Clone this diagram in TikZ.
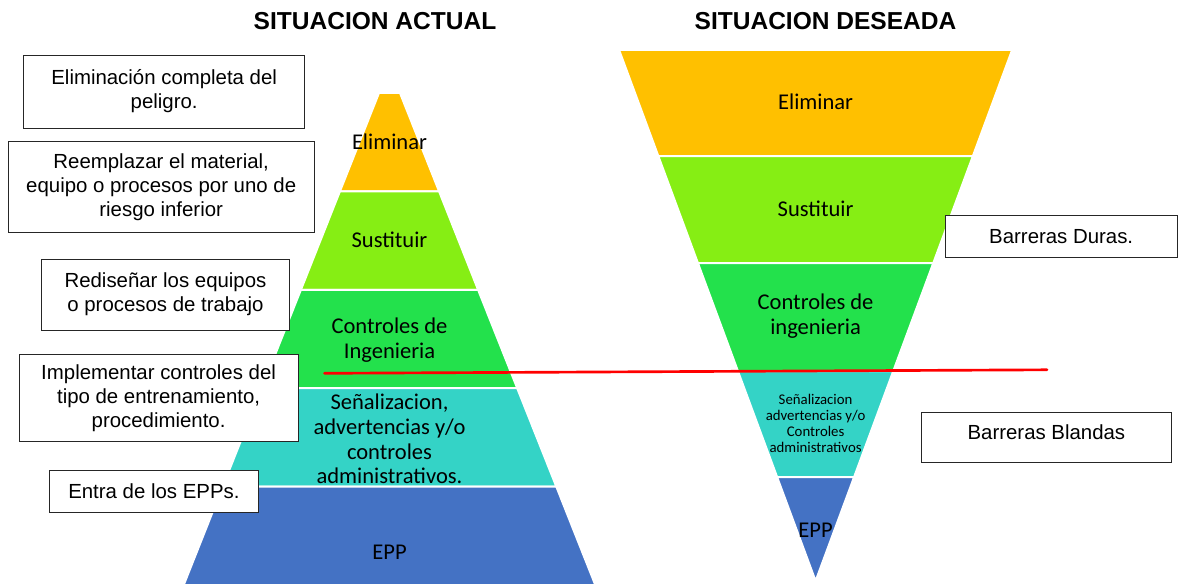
\documentclass[tikz,border=0pt]{standalone}
\usepackage{tkz-euclide}
\usepackage{fontspec}
\setmainfont{Liberation Sans}
\newfontfamily\calibri{Carlito}
\definecolor{elim}{HTML}{FFC000}
\definecolor{sust}{HTML}{86EE14}
\definecolor{ing}{HTML}{23E14C}
\definecolor{adm}{HTML}{34D3C6}
\definecolor{epp}{HTML}{4472C4}
\tikzset{
  nota/.style={draw=black!85,fill=white,line width=0.75pt,inner sep=0pt,align=center,
    font=\fontsize{15.3}{18}\selectfont},
  nivel/.style={align=center,inner sep=0pt,font=\calibri\fontsize{16.9}{18.4}\selectfont},
  nivelchico/.style={align=center,inner sep=0pt,font=\calibri\fontsize{11.1}{12}\selectfont},
  titulo/.style={inner sep=0pt,font=\fontsize{18.4}{22}\selectfont\bfseries},
  capa/.style={draw=white,line width=1.5pt}
}
\begin{document}
\begin{tikzpicture}[x=0.75pt,y=-0.75pt]
    \useasboundingbox (0,0) rectangle (1178,585);
    \tkzDefPoints{379/93/L0,400/93/M0,339.9/191.4/L1,439.1/191.4/M1,
      300.9/289.8/L2,478.1/289.8/M2,261.8/388.2/L3,517.2/388.2/M3,
      222.7/486.6/L4,556.3/486.6/M4,183.7/585/L5,595.3/585/M5}
    \tkzDefPoints{619.1/50/F0,1012.1/50/G0,658.3/156/F1,972.9/156/G1,
      697.9/263/F2,933.3/263/G2,737.9/371/F3,893.3/371/G3,
      777.1/477/F4,854.1/477/G4,815.6/581/V}
    \tkzDefPoints{324.5/373.3/R1,1047/369.8/R2}
    \tkzDrawPolygon[capa,fill=elim](L0,M0,M1,L1)
    \tkzDrawPolygon[capa,fill=sust](L1,M1,M2,L2)
    \tkzDrawPolygon[capa,fill=ing](L2,M2,M3,L3)
    \tkzDrawPolygon[capa,fill=adm](L3,M3,M4,L4)
    \tkzDrawPolygon[capa,fill=epp](L4,M4,M5,L5)
    \tkzDrawPolygon[capa,fill=elim](F0,G0,G1,F1)
    \tkzDrawPolygon[capa,fill=sust](F1,G1,G2,F2)
    \tkzDrawPolygon[capa,fill=ing](F2,G2,G3,F3)
    \tkzDrawPolygon[capa,fill=adm](F3,G3,G4,F4)
    \tkzDrawPolygon[capa,fill=epp](F4,G4,V)
    \node[titulo] (tA) at (375,21) {SITUACION ACTUAL};
    \node[titulo] (tD) at (825.5,21) {SITUACION DESEADA};
    \node[nivel] (aE) at (389.5,142) {Eliminar};
    \node[nivel] (aS) at (389.5,240) {Sustituir};
    \node[nivel] (aC) at (389.5,340) {Controles de\\Ingenieria};
    \node[nivel] (aA) at (389.5,439) {Señalizacion,\\advertencias y/o\\controles\\administrativos.};
    \node[nivel] (aP) at (389.5,552) {EPP};
    \node[nivel] (dE) at (815.6,102) {Eliminar};
    \node[nivel] (dS) at (815.6,209) {Sustituir};
    \node[nivel] (dC) at (815.6,316) {Controles de\\ingenieria};
    \node[nivelchico] (dA) at (815.6,423) {Señalizacion\\advertencias y/o\\Controles\\administrativos};
    \node[nivel] (dP) at (815.6,530) {EPP};
    \tkzDrawSegment[red,line width=2pt](R1,R2)
    \node[nota,minimum width=210.8pt,minimum height=54.8pt] (n1) at (164.2,91.8)
      {Eliminación completa del\\peligro.\rule[-4pt]{0pt}{1pt}};
    \node[nota,minimum width=229.2pt,minimum height=68.3pt] (n2) at (161.2,187.2)
      {Reemplazar el material,\\equipo o procesos por uno de\\riesgo inferior};
    \node[nota,minimum width=186.3pt,minimum height=53pt] (n3) at (165.5,294.7)
      {Rediseñar los equipos\\o procesos de trabajo\rule[-3pt]{0pt}{1pt}};
    \node[nota,minimum width=209.3pt,minimum height=64.7pt] (n4) at (158.6,397.9)
      {Implementar controles del\\tipo de entrenamiento,\\procedimiento.};
    \node[nota,minimum width=156.2pt,minimum height=31.5pt] (n5) at (153.9,491)
      {Entra de los EPPs.};
    \node[nota,minimum width=173.7pt,minimum height=32pt] (nD) at (1061.2,236.4)
      {Barreras Duras.};
    \node[nota,minimum width=187.5pt,minimum height=37.5pt] (nB) at (1046.4,437.3)
      {\raisebox{7.5pt}{Barreras Blandas}};
\end{tikzpicture}
\end{document}
